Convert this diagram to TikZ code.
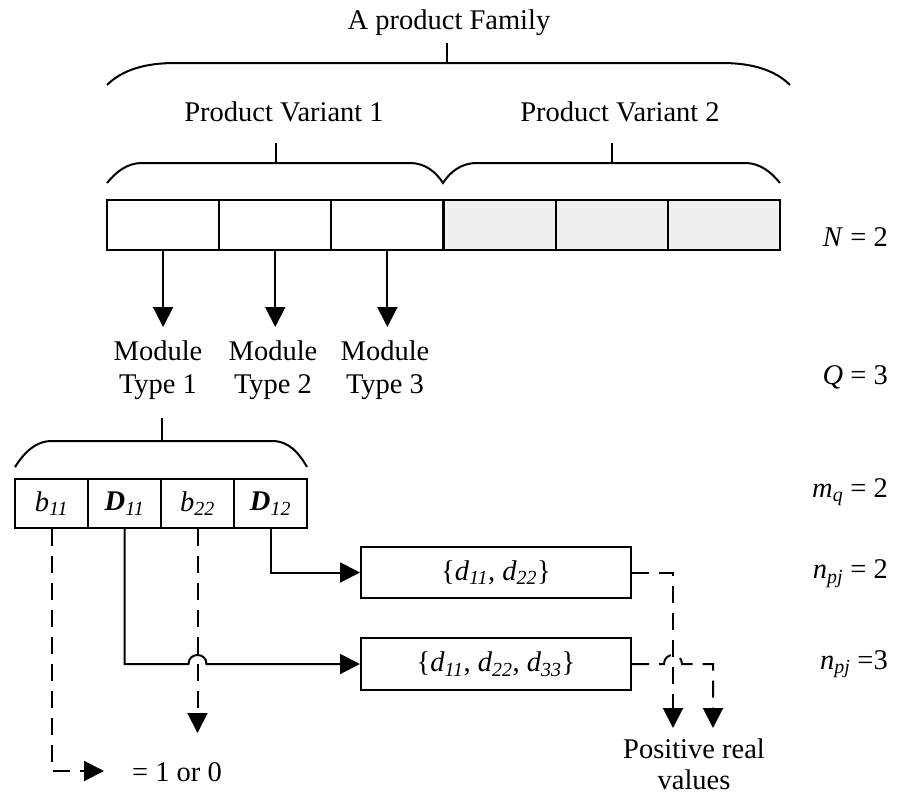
\documentclass[tikz,border=0pt]{standalone}
\usepackage{fontspec}
\setmainfont{Liberation Serif}
\usetikzlibrary{arrows.meta}
\definecolor{cellgray}{HTML}{F0F0F0}
% italic subscript, as used for all indices
\newcommand\isub[1]{\textsubscript{\itshape #1}}
\begin{document}
\begin{tikzpicture}[x=1pt,y=-1pt,
  every node/.style={font=\fontsize{28.5}{32.5}\selectfont, inner sep=0pt},
  ln/.style={line width=2pt},
  dsh/.style={ln, dash pattern=on 17pt off 10pt},
  tip/.style={-{Triangle[length=20pt,width=20pt]}},
  cell/.style={draw, line width=2pt, minimum height=50pt, minimum width=112.17pt, fill=white},
  graycell/.style={cell, fill=cellgray},
  mcell/.style={draw, line width=2pt, minimum height=49pt, minimum width=73pt, fill=white},
  setbox/.style={draw, line width=2pt, minimum width=270pt, fill=white},
  rlabel/.style={anchor=east}
]
\useasboundingbox (0,0) rectangle (897,798);

% ---- family level ----
\node (fam) at (449,23) {A product Family};
\draw[ln] (447,43) -- (447,63);
\draw[ln] (107,85) .. controls (122,70) and (145,63) .. (175,63) -- (722,63)
          .. controls (752,63) and (775,70) .. (790,85);

\node (pv1) at (284,112) {Product Variant 1};
\node (pv2) at (620,112) {Product Variant 2};
\draw[ln] (276,143) -- (276,163);
\draw[ln] (612,143) -- (612,163);
\draw[ln] (107,183) .. controls (116,172) and (127,163) .. (142,163) -- (410,163)
          .. controls (425,163) and (436,172) .. (443,183)
          .. controls (450,172) and (461,163) .. (477,163) -- (745,163)
          .. controls (760,163) and (771,172) .. (780,183);

% ---- module slots of the two variants ----
\node[cell]     (c1) at (163.1,225) {};
\node[cell]     (c2) at (275.25,225) {};
\node[cell]     (c3) at (387.4,225) {};
\node[graycell] (c4) at (499.6,225) {};
\node[graycell] (c5) at (611.75,225) {};
\node[graycell] (c6) at (723.9,225) {};

\coordinate (tipline) at (0,327);
\draw[ln,tip] (c1.south) -- (c1.south |- tipline);
\draw[ln,tip] (c2.south) -- (c2.south |- tipline);
\draw[ln,tip] (c3.south) -- (c3.south |- tipline);

\node[align=center] (m1) at (158,370) {Module\\Type 1};
\node[align=center] (m2) at (273,370) {Module\\Type 2};
\node[align=center] (m3) at (385,370) {Module\\Type 3};

% ---- parameters of module type 1 ----
\draw[ln] (162,418) -- (162,441);
\draw[ln] (15,467) .. controls (24,453) and (35,441) .. (52,441) -- (272,441)
          .. controls (289,441) and (299,453) .. (307,467);

\node[mcell] (b11) at (51.5,503.5) {\textit{b}\isub{11}};
\node[mcell] (D11) at (124.5,503.5) {\textbf{\textit{D}}\isub{11}};
\node[mcell] (b22) at (197.5,503.5) {\textit{b}\isub{22}};
\node[mcell] (D12) at (270.5,503.5) {\textbf{\textit{D}}\isub{12}};

\node[setbox, minimum height=51pt] (s1) at (496,572.5)
  {\{\textit{d}\isub{11}, \textit{d}\isub{22}\}};
\node[setbox, minimum height=52pt] (s2) at (496,664)
  {\{\textit{d}\isub{11}, \textit{d}\isub{22}, \textit{d}\isub{33}\}};

% design variables to their sets
\draw[ln,tip] (D12.south) |- (s1.west);
\draw[ln,tip] (D11.south) |- ([xshift=-9pt]b22.south |- s2.west)
   .. controls +(0,-12) and +(0,-12) .. ([xshift=9pt]b22.south |- s2.west)
   -- (s2.west);

% binary variables
\coordinate (e22) at (197.5,733);
\draw[dsh,tip] (b22.south) -- (e22);
\node (bin) at (177,772) {= 1 or 0};
\coordinate (e11) at (104,771);
\draw[dsh,tip] (b11.south) |- (e11);

% set values
\coordinate (pr1) at (673,728);
\coordinate (pr2) at (713,728);
\draw[dsh,tip] (s1.east) -| (pr1);
\draw[dsh,tip] (s2.east) -- ([xshift=-9pt]pr1 |- s2.east)
   .. controls +(0,-12) and +(0,-12) .. ([xshift=9pt]pr1 |- s2.east)
   -| (pr2);
\node[align=center, font=\fontsize{28.5}{31}\selectfont] (pos) at (694,764)
  {Positive real\\values};

% ---- counts on the right ----
\node[rlabel] (lN) at (888,237) {\textit{N} = 2};
\node[rlabel] (lQ) at (888,377) {\textit{Q} = 3};
\node[rlabel] (lm) at (888,492) {\textit{m}\isub{q} = 2};
\node[rlabel] (ln2) at (888,574) {\textit{n}\isub{pj} = 2};
\node[rlabel] (ln3) at (888,664) {\textit{n}\isub{pj} =3};
\end{tikzpicture}
\end{document}
